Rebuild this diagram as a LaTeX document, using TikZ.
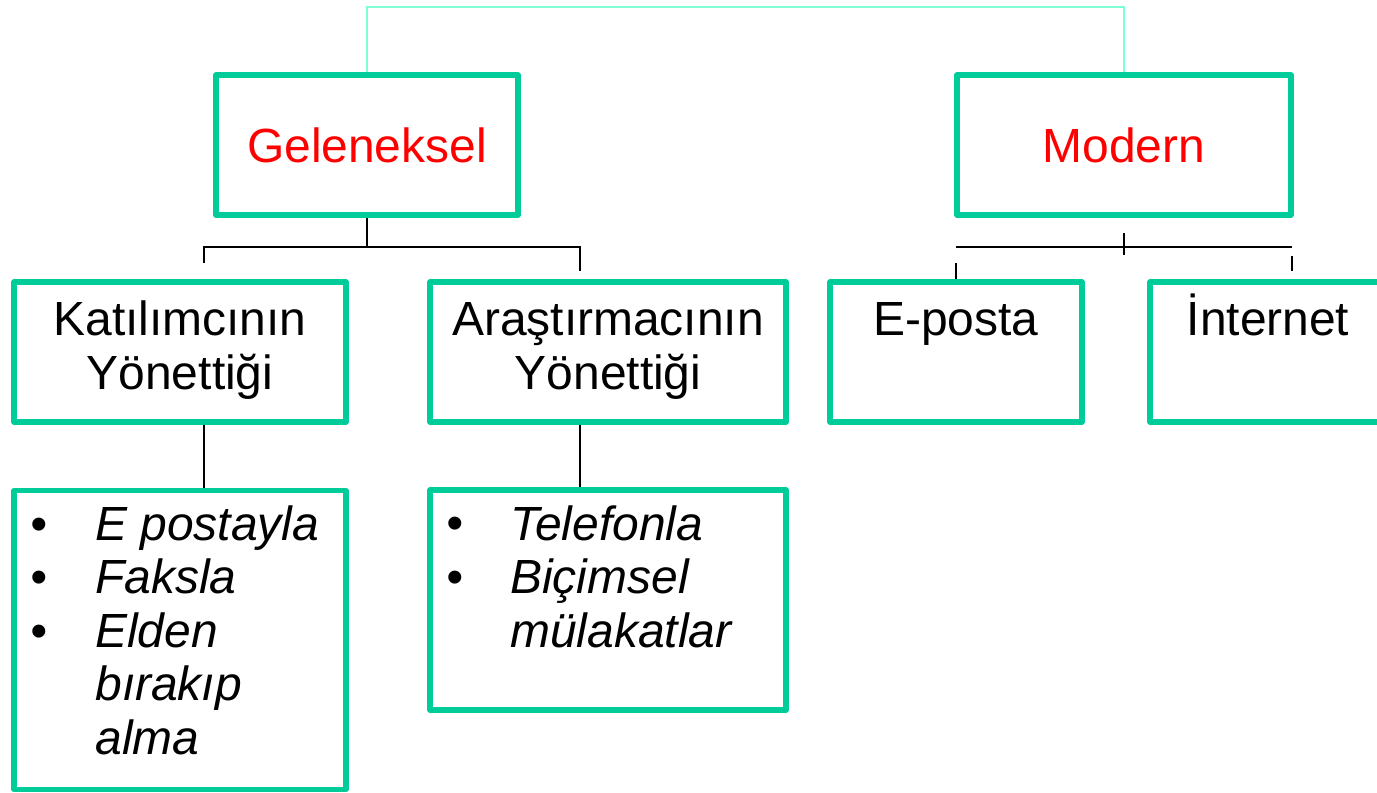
\documentclass[tikz,border=0pt]{standalone}
\usepackage{fontspec}
\setmainfont{Liberation Sans}
\definecolor{boxgreen}{RGB}{0,204,153}
\definecolor{topline}{RGB}{127,255,212}
\newcommand{\boxfont}{\fontsize{27.3}{30.4}\selectfont}

\begin{document}
\begin{tikzpicture}[x=0.02cm, y=-0.02cm,
    box/.style={draw=boxgreen, line width=3pt, minimum height=2.8cm, line join=round},
    boxtext/.style={font=\boxfont, align=center, inner sep=0pt},
    title/.style={font=\boxfont, text=red, inner sep=0pt},
    items/.style={font=\boxfont\itshape, align=left, inner sep=0pt},
    link/.style={draw=black, line width=1.1pt}]
  % frame is (0,0) to (1377,792), y downwards
  \useasboundingbox (0,0) rectangle (1377,792);

  % top level
  \node[box, minimum width=6.04cm] (gel) at (367,145) {};
  \node[title, anchor=base] (geltext) at (367,162) {Geleneksel};
  \node[box, minimum width=6.68cm] (mod) at (1124,145) {};
  \node[title, anchor=base] (modtext) at (1124,162) {Modern};
  \draw[draw=topline, line width=1.1pt] (gel.north) -- ++(0,-65) -| (mod.north);

  % second level (base = last line)
  \node[box, minimum width=6.64cm] (kat) at (180,352) {};
  \node[boxtext, anchor=base] (kattext) at (180,389) {Katılımcının\\Yönettiği};
  \node[box, minimum width=7.12cm] (ara) at (608,352) {};
  \node[boxtext, anchor=base] (aratext) at (608,389) {Araştırmacının\\Yönettiği};
  \node[box, minimum width=5.04cm] (epo) at (956,352) {};
  \node[boxtext, anchor=base] (epotext) at (956,335) {E-posta};
  \node[box, minimum width=5cm] (int) at (1275,352) {};
  \node[boxtext, anchor=base] (inttext) at (1268,335) {İnternet};

  % lists
  \node[box, minimum width=6.64cm, minimum height=5.98cm] (katlist) at (180,640) {};
  \node[items, anchor=base west] (katbul) at (30,647) {•\\•\\•};
  \node[items, anchor=base west] (katitems) at (95,754) {E postayla\\Faksla\\Elden\\bırakıp\\alma};
  \node[box, minimum width=7.12cm, minimum height=4.4cm] (aralist) at (608,600) {};
  \node[items, anchor=base west] (arabul) at (446,593) {•\\•};
  \node[items, anchor=base west] (araitems) at (510,647) {Telefonla\\Biçimsel\\mülakatlar};

  % Geleneksel links
  \coordinate (gelfork) at (367,247);
  \coordinate (katdrop) at (204,263);
  \coordinate (aradrop) at (580,271);
  \draw[link] (gel.south) -- (gelfork);
  \draw[link] (katdrop) |- (gelfork) -| (aradrop);
  \draw[link] (kat.south -| katdrop) -- (katlist.north -| katdrop);
  \draw[link] (ara.south -| aradrop) -- (aralist.north -| aradrop);

  % Modern links
  \coordinate (modfork) at (1124,247);
  \coordinate (epofork) at (956,247);
  \coordinate (intfork) at (1292,247);
  \draw[link] (epofork) -- (intfork);
  \draw[link] (modfork) ++(0,-14) -- ++(0,22);
  \draw[link] (epofork) ++(0,16) -- (epo.north -| epofork);
  \draw[link] (intfork) ++(0,9) -- ++(0,15);
\end{tikzpicture}
\end{document}
